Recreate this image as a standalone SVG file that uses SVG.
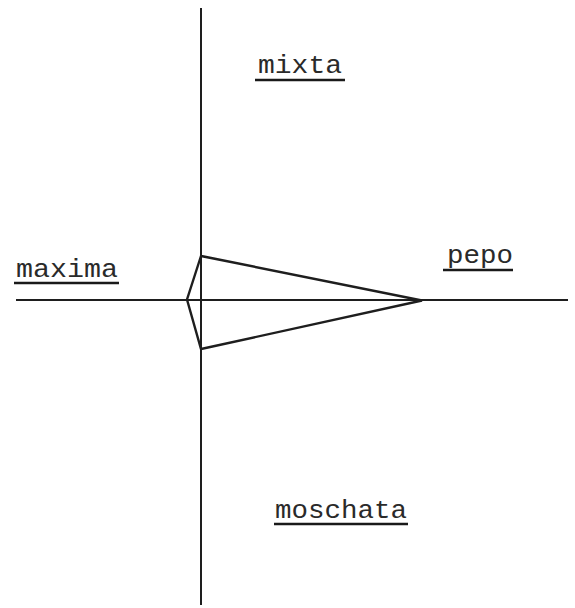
<svg xmlns="http://www.w3.org/2000/svg" width="575" height="608" viewBox="0 0 575 608">
<style>
.ax{stroke:#1e1e1e;stroke-width:2;fill:none;stroke-linecap:butt}
.poly{stroke:#1e1e1e;stroke-width:2.4;fill:none;stroke-linejoin:miter}
.lbl{font-family:"Liberation Mono","DejaVu Sans Mono",monospace;font-size:26px;fill:#2a2a2a}
.ul{stroke:#1a1a1a;stroke-width:2.4}
</style>
<rect width="575" height="608" fill="#ffffff"/>
<g id="connectors">
<line class="ax" x1="201" y1="8" x2="201" y2="605"/>
<line class="ax" x1="16" y1="300" x2="568" y2="300"/>
<polygon class="poly" points="201,256 187,299.5 201,349 422,300.5"/>
</g>
<g id="maxima">
<text class="lbl" x="16" y="277" textLength="102" lengthAdjust="spacingAndGlyphs">maxima</text>
<line class="ul" x1="14" y1="283" x2="119" y2="283"/>
</g>
<g id="mixta">
<text class="lbl" x="258" y="73" textLength="84" lengthAdjust="spacingAndGlyphs">mixta</text>
<line class="ul" x1="255" y1="80" x2="345" y2="80"/>
</g>
<g id="pepo">
<text class="lbl" x="447" y="263" textLength="66" lengthAdjust="spacingAndGlyphs" fill="#555">pepo</text>
<line class="ul" x1="443" y1="270" x2="513" y2="270"/>
</g>
<g id="moschata">
<text class="lbl" x="275" y="518" textLength="132" lengthAdjust="spacingAndGlyphs">moschata</text>
<line class="ul" x1="274" y1="524" x2="408" y2="524"/>
</g>
</svg>
